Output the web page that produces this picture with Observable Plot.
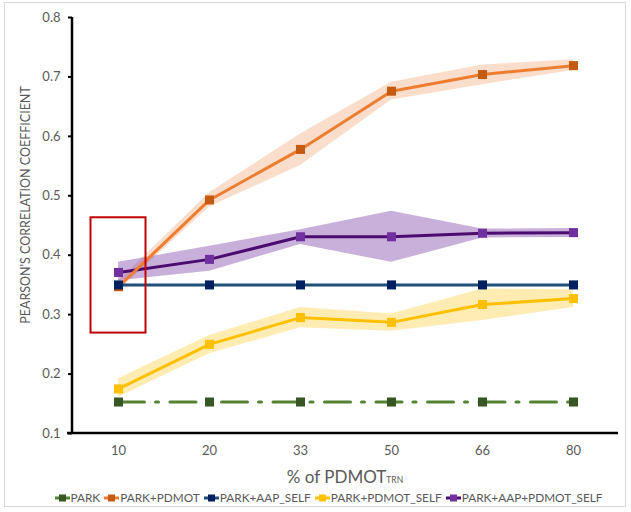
<!DOCTYPE html>
<html><head><meta charset="utf-8">
<script src="https://cdn.jsdelivr.net/npm/d3@7"></script>
<script src="https://cdn.jsdelivr.net/npm/@observablehq/plot@0.6"></script>
<style>
body{margin:0;background:#fff;font-family:Lato,"Noto Sans",sans-serif;}
#wrap{position:relative;width:631px;height:512px;overflow:hidden;background:#fff;}
#frame{position:absolute;left:4px;top:2px;width:622px;height:505px;border:1px solid #d9d9d9;box-sizing:border-box;}
#chart{position:absolute;left:0;top:0;}
#ylabel{position:absolute;left:25px;top:205px;transform:translate(-50%,-50%) rotate(-90deg);white-space:nowrap;font-size:12.5px;color:#595959;}
#xlabel{position:absolute;left:345px;top:476px;transform:translate(-50%,-50%);font-size:17px;color:#595959;white-space:nowrap;}
#xlabel span{font-size:8.5px;}
#legend{position:absolute;left:13px;width:631px;top:490px;display:flex;justify-content:center;align-items:center;font-size:11.8px;color:#595959;white-space:nowrap;}
#legend .item{display:flex;align-items:center;margin:0 2px;}
#legend svg{display:block;margin-right:1px;}
</style>
</head><body>
<div id="wrap">
  <div id="frame"></div>
  <div id="chart"></div>
  <div id="ylabel">PEARSON'S CORRELATION COEFFICIENT</div>
  <div id="xlabel">% of PDMOT<span>TRN</span></div>
  <div id="legend"></div>
</div>
<script>
const pct = ["10","20","33","50","66","80"];
const seriesNames = ["PARK","PARK+PDMOT","PARK+AAP_SELF","PARK+PDMOT_SELF","PARK+AAP+PDMOT_SELF"];
const park = [0.153,0.153,0.153,0.153,0.153,0.153];
const parkPdmot = [0.347,0.493,0.578,0.676,0.704,0.719];
const parkPdmotLo = [0.340,0.481,0.551,0.661,0.687,0.711];
const parkPdmotHi = [0.356,0.505,0.604,0.691,0.720,0.729];
const parkAapSelf = [0.350,0.350,0.350,0.350,0.350,0.350];
const parkPdmotSelf = [0.175,0.250,0.295,0.287,0.317,0.327];
const parkPdmotSelfLo = [0.161,0.234,0.278,0.272,0.290,0.312];
const parkPdmotSelfHi = [0.192,0.265,0.312,0.301,0.343,0.342];
const parkAapPdmotSelf = [0.371,0.393,0.431,0.431,0.437,0.438];
const parkAapPdmotSelfLo = [0.357,0.373,0.418,0.388,0.429,0.430];
const parkAapPdmotSelfHi = [0.388,0.415,0.443,0.474,0.444,0.445];
const yTicks = [0.1,0.2,0.3,0.4,0.5,0.6,0.7,0.8];
const highlight = [{x:"10", y1:0.269, y2:0.463}];

const lineColors = ["#548235","#ED7D31","#1F4E79","#FFC000","#4B0B6F"];
const markerColors = ["#375623","#C55A11","#002060","#FFC000","#7030A0"];
const values = [park, parkPdmot, parkAapSelf, parkPdmotSelf, parkAapPdmotSelf];

const table = (arr) => pct.map((p,i)=>({x:p, y:arr[i]}));
const band = (lo,hi) => pct.map((p,i)=>({x:p, lo:lo[i], hi:hi[i]}));

function axisLines(index, scales, vals, dims) {
  const {width, height, marginLeft, marginRight, marginTop, marginBottom} = dims;
  const g = d3.create("svg:g").attr("stroke","black").attr("stroke-width",2.5);
  g.append("line").attr("x1", marginLeft).attr("x2", marginLeft)
    .attr("y1", marginTop).attr("y2", height - marginBottom);
  g.append("line").attr("x1", marginLeft - 5).attr("x2", width - marginRight)
    .attr("y1", height - marginBottom).attr("y2", height - marginBottom);
  return g.node();
}

const order = [4,3,0,1,2];

const marks = [
  Plot.areaY(band(parkPdmotLo, parkPdmotHi), {x:"x", y1:"lo", y2:"hi", fill:"#ED7D31", fillOpacity:0.25}),
  Plot.areaY(band(parkPdmotSelfLo, parkPdmotSelfHi), {x:"x", y1:"lo", y2:"hi", fill:"#FFC000", fillOpacity:0.3}),
  Plot.areaY(band(parkAapPdmotSelfLo, parkAapPdmotSelfHi), {x:"x", y1:"lo", y2:"hi", fill:"#7030A0", fillOpacity:0.38}),
  axisLines,
  Plot.axisY({ticks:yTicks, tickSize:4, tickPadding:8, tickFormat:d3.format(".1f"), stroke:"black", strokeWidth:2, color:"#595959", label:null}),
  Plot.axisX({tickSize:0, tickPadding:12, color:"#595959", label:null})
];
for (const k of order) {
  marks.push(Plot.lineY(table(values[k]), {x:"x", y:"y", stroke:lineColors[k], strokeWidth:3,
    strokeDasharray: k===0 ? "26,11,3,11.5" : null}));
}
for (const k of order) {
  marks.push(Plot.dot(table(values[k]), {x:"x", y:"y", symbol:"square", r:5.1, fill:markerColors[k], stroke:null}));
}
marks.push(Plot.rect(highlight, {x1:"x", x2:"x", y1:"y1", y2:"y2", insetLeft:-27.5, insetRight:-27.5, fill:"none", stroke:"#C00000", strokeWidth:2}));

const chart = Plot.plot({
  width:631, height:462, marginTop:17, marginBottom:29, marginLeft:72, marginRight:13,
  style:{fontFamily:"Lato, 'Noto Sans', sans-serif", fontSize:"13px", background:"transparent"},
  x:{type:"point", domain:pct, padding:0.5, label:null},
  y:{domain:[0.1,0.8], label:null},
  marks
});
document.getElementById("chart").appendChild(chart);

const legend = document.getElementById("legend");
seriesNames.forEach((name,k)=>{
  const item = document.createElement("div");
  item.className = "item";
  item.innerHTML = `<svg width="15" height="10"><line x1="0" x2="15" y1="5" y2="5" stroke="${lineColors[k]}" stroke-width="3"/><rect x="4" y="1.5" width="7" height="7" fill="${markerColors[k]}"/></svg><span>${name}</span>`;
  legend.appendChild(item);
});
</script>
</body></html>
